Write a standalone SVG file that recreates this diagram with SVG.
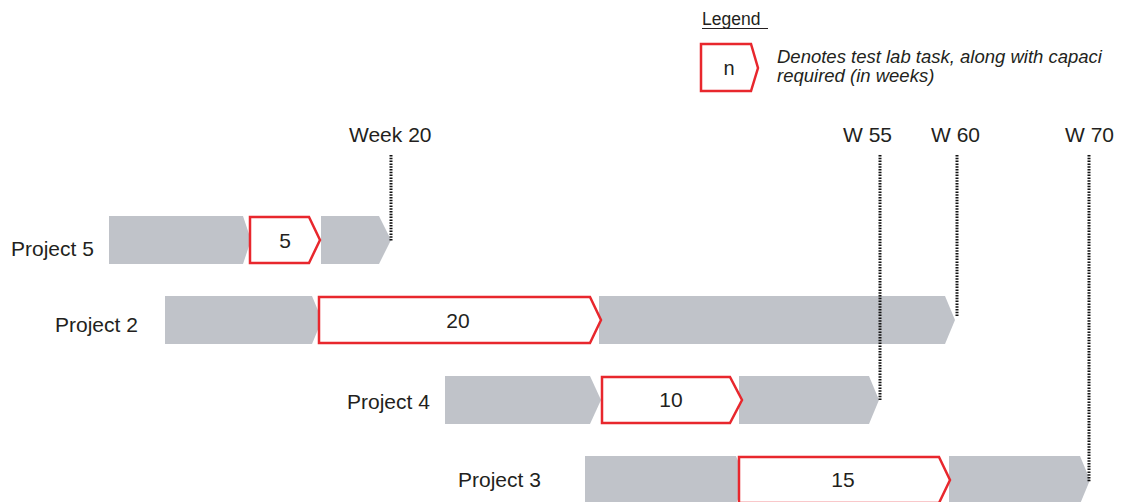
<svg xmlns="http://www.w3.org/2000/svg" width="1126" height="502" viewBox="0 0 1126 502">
  <style>
    .phase { fill: #c0c3c9; }
    .lab { fill: #ffffff; stroke: #e8272d; stroke-width: 2.5; stroke-linejoin: miter; }
    .txt { font-family: "Liberation Sans", Arial, sans-serif; font-size: 21px; fill: #231f20; }
    .num { text-anchor: middle; }
    .note { font-family: "Liberation Sans", Arial, sans-serif; font-size: 18.5px; font-style: italic; fill: #231f20; }
    .marker-line { stroke: #111111; stroke-width: 3; stroke-dasharray: 1.5 1.3; fill: none; }
  </style>

  <rect width="1126" height="502" fill="#ffffff"/>

  <!-- Legend -->
  <g id="legend">
    <text x="702" y="25" class="txt" style="font-size:17.5px">Legend</text>
    <line x1="702" y1="28.5" x2="768" y2="28.5" stroke="#231f20" stroke-width="1.2"/>
    <polygon class="lab" points="701,44 751,44 758,68 751,91 701,91"/>
    <text x="729" y="75" class="txt num" style="font-size:20px">n</text>
    <text x="777" y="63" class="note">Denotes test lab task, along with capaci</text>
    <text x="777" y="82" class="note">required (in weeks)</text>
  </g>

  <!-- Milestone labels -->
  <g id="milestones">
    <text x="349" y="142" class="txt">Week 20</text>
    <text x="843" y="142" class="txt">W 55</text>
    <text x="931" y="142" class="txt">W 60</text>
    <text x="1065" y="142" class="txt">W 70</text>
  </g>

  <!-- Project 5 -->
  <g id="project5">
    <text x="11" y="256" class="txt">Project 5</text>
    <polygon class="phase" points="109,216 243,216 251,240 243,264 109,264"/>
    <polygon class="phase" points="321,216 379,216 391,240 379,264 321,264"/>
    <polygon class="lab" points="250,217 309,217 320,240 309,263 250,263"/>
    <text x="285" y="248" class="txt num">5</text>
  </g>

  <!-- Project 2 -->
  <g id="project2">
    <text x="55" y="332" class="txt">Project 2</text>
    <polygon class="phase" points="165,296 312,296 322,320 312,344 165,344"/>
    <polygon class="phase" points="599,296 945,296 955,320 945,344 599,344"/>
    <polygon class="lab" points="319,297 590,297 601,320 590,343 319,343"/>
    <text x="458" y="328" class="txt num">20</text>
  </g>

  <!-- Project 4 -->
  <g id="project4">
    <text x="347" y="409" class="txt">Project 4</text>
    <polygon class="phase" points="445,376 590,376 601,400 590,424 445,424"/>
    <polygon class="phase" points="739,376 869,376 879,400 869,424 739,424"/>
    <polygon class="lab" points="602,377 730,377 742,400 730,423 602,423"/>
    <text x="671" y="407" class="txt num">10</text>
  </g>

  <!-- Project 3 -->
  <g id="project3">
    <text x="458" y="487" class="txt">Project 3</text>
    <polygon class="phase" points="585,456 736,456 746,480 736,504 585,504"/>
    <polygon class="phase" points="949,456 1080,456 1090,480 1080,504 949,504"/>
    <polygon class="lab" points="739,457 939,457 950,480 939,503 739,503"/>
    <text x="843" y="487" class="txt num">15</text>
  </g>

  <!-- Milestone connectors -->
  <g id="connectors">
    <line class="marker-line" x1="391" y1="155" x2="391" y2="241"/>
    <line class="marker-line" x1="880" y1="155" x2="880" y2="401"/>
    <line class="marker-line" x1="957" y1="155" x2="957" y2="317"/>
    <line class="marker-line" x1="1089" y1="155" x2="1089" y2="482"/>
  </g>
</svg>
